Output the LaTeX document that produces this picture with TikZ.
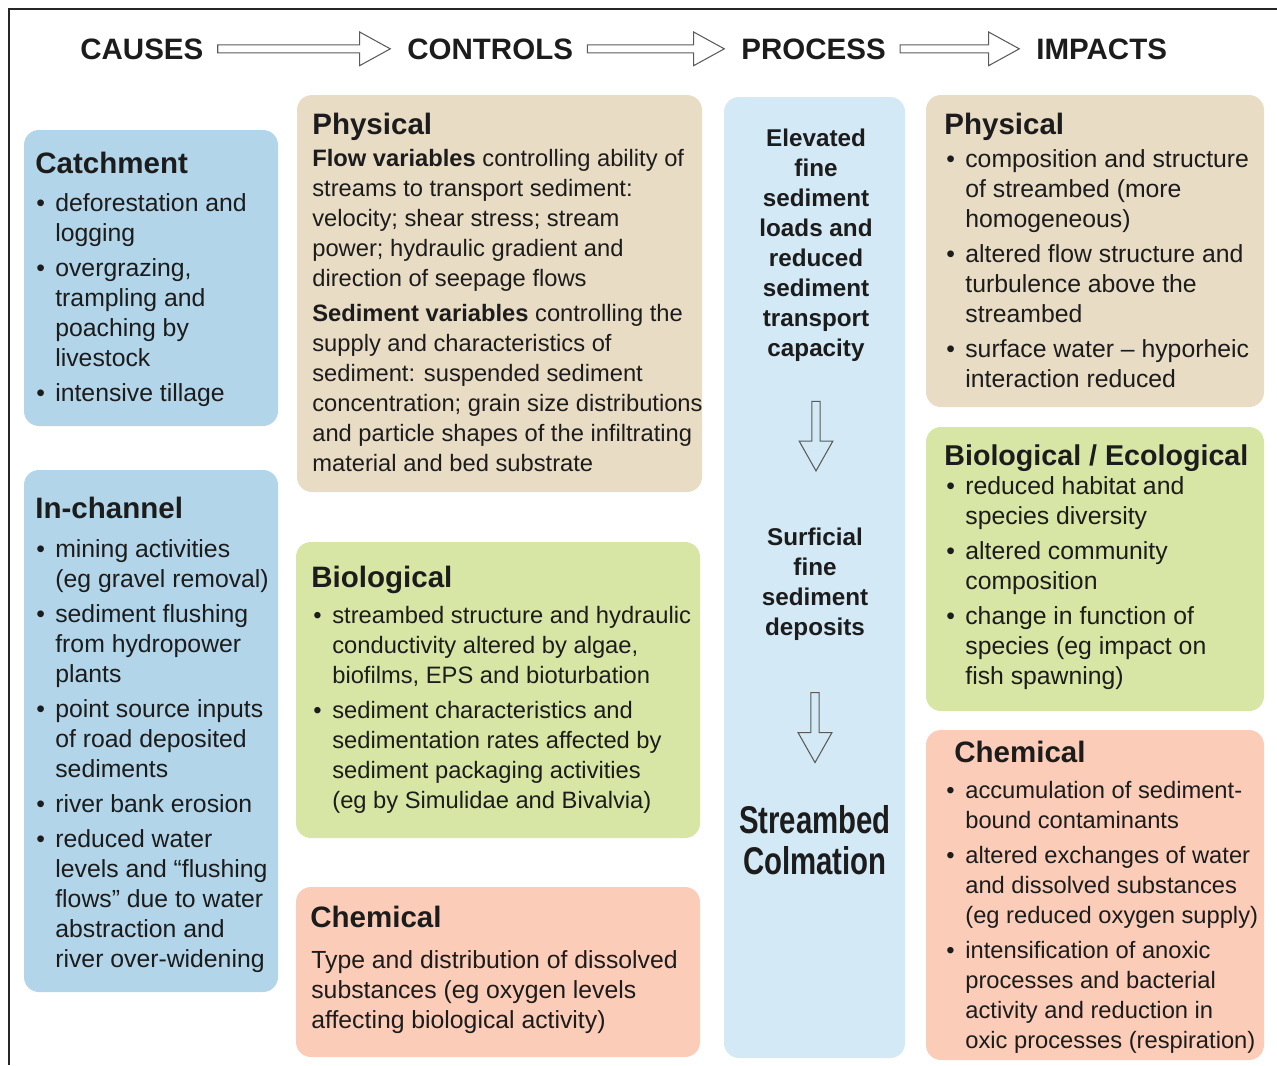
\documentclass[tikz,border=0pt]{standalone}
\usepackage{fontspec}
\setmainfont{Liberation Sans}
\newfontfamily\narrowfont[FakeStretch=0.76]{Liberation Sans Bold}
\usetikzlibrary{fit,calc}
\definecolor{causeblue}{HTML}{B2D5E9}
\definecolor{processblue}{HTML}{D3E9F6}
\definecolor{physicaltan}{HTML}{E9DCC5}
\definecolor{biogreen}{HTML}{D7E6A5}
\definecolor{chemsalmon}{HTML}{FBCDB9}
\definecolor{inkgrey}{HTML}{1C1C1C}
\definecolor{arrowgrey}{HTML}{5A5A5A}
\newcommand{\bul}{\makebox[0.38cm][l]{\textbullet}}
\newcommand{\ind}{\hspace*{0.38cm}}
% hollow block arrows between two named nodes
\newcommand{\hollowright}[2]{%
  \draw[hollow] let \p1=(#1.east), \p2=(#2.west) in
    (\x1+8pt,\y1+2.3pt) -- (\x2-27pt,\y1+2.3pt) -- (\x2-27pt,\y1+9.6pt) -- (\x2-9.5pt,\y1)
    -- (\x2-27pt,\y1-9.6pt) -- (\x2-27pt,\y1-2.3pt) -- (\x1+8pt,\y1-2.3pt) -- cycle;}
\newcommand{\hollowdown}[4]{%
  \draw[hollow] let \p1=(#1.south), \p2=(#2.north) in
    (\x1-2.3pt,\y1-#3) -- (\x1-2.3pt,\y2+#4+17pt) -- (\x1-9.6pt,\y2+#4+17pt) -- (\x1,\y2+#4)
    -- (\x1+9.6pt,\y2+#4+17pt) -- (\x1+2.3pt,\y2+#4+17pt) -- (\x1+2.3pt,\y1-#3) -- cycle;}
\begin{document}
\begin{tikzpicture}[x=0.02cm,y=-0.02cm,
  panel/.style={rounded corners=0.3cm,inner sep=0pt},
  title/.style={inner sep=0pt,text=inkgrey,anchor=base west,font=\fontsize{16.8}{20}\selectfont\bfseries},
  body/.style={inner sep=0pt,text=inkgrey,align=left,anchor=north west,yshift=11.95pt,
    execute at begin node=\strut,font=\fontsize{14.1}{17.07}\selectfont},
  small/.style={body,font=\fontsize{13.5}{17.07}\selectfont},
  stage/.style={inner sep=0pt,text=inkgrey,align=center,anchor=north,yshift=11.95pt,
    execute at begin node=\strut,font=\fontsize{13.8}{17.07}\selectfont\bfseries},
  hollow/.style={draw=arrowgrey,line width=0.6pt,line join=miter}]
\useasboundingbox (0,0) rectangle (1277,1065);
\draw[line width=1.4pt,draw=black!85] (9,1065) -- (9,9) -- (1277,9);

% column headings
\node[title] (causes) at (80,59) {CAUSES};
\node[title] (controls) at (407,59) {CONTROLS};
\node[title] (process) at (741,59) {PROCESS};
\node[title] (impacts) at (1036,59) {IMPACTS};
\hollowright{causes}{controls}
\hollowright{controls}{process}
\hollowright{process}{impacts}

% causes
\node[panel,fill=causeblue,fit={(24,130) (278,426)}] (catchment) {};
\node[title] (catchmentT) at (35,173) {Catchment};
\node[body] (catchmentB) at (36,214) {%
\bul deforestation and\\ \ind logging\\[0.1cm]
\bul overgrazing,\\ \ind trampling and\\ \ind poaching by\\ \ind livestock\\[0.1cm]
\bul intensive tillage};

\node[panel,fill=causeblue,fit={(24,470) (278,992)}] (inchannel) {};
\node[title] (inchannelT) at (35,518) {In-channel};
\node[body] (inchannelB) at (36,560) {%
\bul mining activities\\ \ind (eg gravel removal)\\[0.1cm]
\bul sediment flushing\\ \ind from hydropower\\ \ind plants\\[0.1cm]
\bul point source inputs\\ \ind of road deposited\\ \ind sediments\\[0.1cm]
\bul river bank erosion\\[0.1cm]
\bul reduced water\\ \ind levels and “flushing\\ \ind flows” due to water\\ \ind abstraction and\\ \ind river over-widening};

% controls
\node[panel,fill=physicaltan,fit={(297,95) (702,492)}] (ctrlphys) {};
\node[title] (ctrlphysT) at (312,134) {Physical};
\node[small] (ctrlphysB) at (312,170) {%
\textbf{Flow variables} controlling ability of\\ streams to transport sediment:\\
velocity; shear stress; stream\\ power; hydraulic gradient and\\ direction of seepage flows\\[0.1cm]
\textbf{Sediment variables} controlling the\\ supply and characteristics of\\
sediment: suspended sediment\\ concentration; grain size distributions\\
and particle shapes of the infiltrating\\ material and bed substrate};

\node[panel,fill=biogreen,fit={(296,542) (700,838)}] (ctrlbio) {};
\node[title] (ctrlbioT) at (311,587) {Biological};
\node[small] (ctrlbioB) at (313,627) {%
\bul streambed structure and hydraulic\\ \ind conductivity altered by algae,\\ \ind biofilms, EPS and bioturbation\\[0.1cm]
\bul sediment characteristics and\\ \ind sedimentation rates affected by\\ \ind sediment packaging activities\\ \ind (eg by Simulidae and Bivalvia)};

\node[panel,fill=chemsalmon,fit={(296,887) (700,1057)}] (ctrlchem) {};
\node[title] (ctrlchemT) at (310,927) {Chemical};
\node[body] (ctrlchemB) at (311,971) {%
Type and distribution of dissolved\\ substances (eg oxygen levels\\ affecting biological activity)};

% process
\node[panel,fill=processblue,fit={(724,97) (905,1058)}] (proc) {};
\node[stage] (elevated) at (816,150) {Elevated\\ fine\\ sediment\\ loads and\\ reduced\\ sediment\\ transport\\ capacity};
\node[stage] (surficial) at (815,549) {Surficial\\ fine\\ sediment\\ deposits};
\node[inner sep=0pt,text=inkgrey,align=center,anchor=north,yshift=16.66pt,execute at begin node=\strut,
  font=\fontsize{22}{23.8}\selectfont\narrowfont] (colmation) at (815,834) {Streambed\\ Colmation};
\hollowdown{elevated}{surficial}{20pt}{32.5pt}
\hollowdown{surficial}{colmation}{27pt}{24pt}

% impacts
\node[panel,fill=physicaltan,fit={(926,95) (1264,407)}] (imphys) {};
\node[title] (imphysT) at (944,134) {Physical};
\node[body] (imphysB) at (946,170) {%
\bul composition and structure\\ \ind of streambed (more\\ \ind homogeneous)\\[0.1cm]
\bul altered flow structure and\\ \ind turbulence above the\\ \ind streambed\\[0.1cm]
\bul surface water -- hyporheic\\ \ind interaction reduced};

\node[panel,fill=biogreen,fit={(926,427) (1264,711)}] (impbio) {};
\node[title,font=\fontsize{16.3}{20}\selectfont\bfseries] (impbioT) at (944,465) {Biological / Ecological};
\node[body] (impbioB) at (946,497) {%
\bul reduced habitat and\\ \ind species diversity\\[0.1cm]
\bul altered community\\ \ind composition\\[0.1cm]
\bul change in function of\\ \ind species (eg impact on\\ \ind fish spawning)};

\node[panel,fill=chemsalmon,fit={(926,730) (1264,1060)}] (impchem) {};
\node[title] (impchemT) at (954,762) {Chemical};
\node[small] (impchemB) at (946,802) {%
\bul accumulation of sediment-\\ \ind bound contaminants\\[0.1cm]
\bul altered exchanges of water\\ \ind and dissolved substances\\ \ind (eg reduced oxygen supply)\\[0.1cm]
\bul intensification of anoxic\\ \ind processes and bacterial\\ \ind activity and reduction in\\ \ind oxic processes (respiration)};
\end{tikzpicture}
\end{document}
